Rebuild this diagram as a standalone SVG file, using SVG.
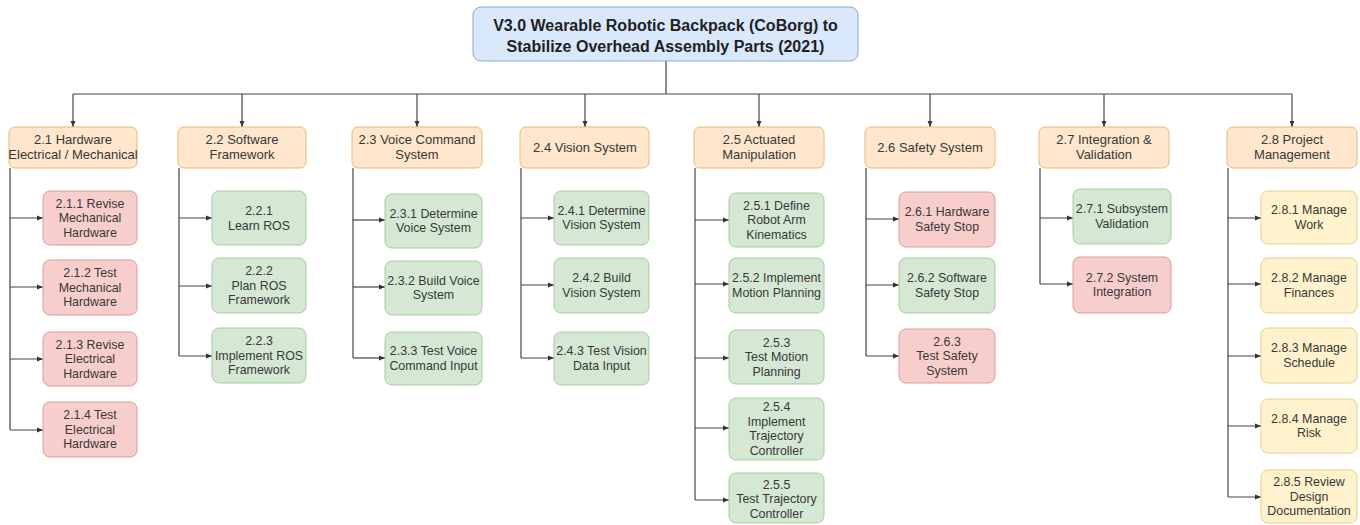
<svg xmlns="http://www.w3.org/2000/svg" width="1360" height="525" viewBox="0 0 1360 525">
  <style>
    text { font-family: "Liberation Sans", Arial, sans-serif; font-size: 12.4px; fill: #383838; text-anchor: middle; }
    .title text { font-size: 16px; font-weight: bold; fill: #222; }
    .phase text { font-size: 13px; }
    .title rect { fill: #dae8fc; stroke: #8aa8d0; stroke-width: 1; }
    .phase rect { fill: #ffe6cc; stroke: #e8b877; stroke-width: 1; }
    .red rect { fill: #f8cecc; stroke: #d79b98; stroke-width: 1; }
    .green rect { fill: #d5e8d4; stroke: #a9cc9c; stroke-width: 1; }
    .yellow rect { fill: #fff2cc; stroke: #e6d08c; stroke-width: 1; }
    #connectors path { fill: none; stroke: #444; stroke-width: 1.2; }
    #connectors .arr { marker-end: url(#arrow); }
  </style>
  <defs>
    <marker id="arrow" viewBox="0 0 10 10" refX="10" refY="5" markerWidth="6" markerHeight="6" markerUnits="userSpaceOnUse" orient="auto">
      <path d="M0,1 L10,5 L0,9 Z" fill="#333"/>
    </marker>
  </defs>
  <rect width="1360" height="525" fill="#ffffff"/>

  <!-- connectors -->
  <g id="connectors">
    <path d="M666,61 V94"/>
    <path d="M73,94 H1292"/>
    <path class="arr" d="M73,94 V127"/>
    <path class="arr" d="M242,94 V127"/>
    <path class="arr" d="M417,94 V127"/>
    <path class="arr" d="M585,94 V127"/>
    <path class="arr" d="M759,94 V127"/>
    <path class="arr" d="M930,94 V127"/>
    <path class="arr" d="M1104,94 V127"/>
    <path class="arr" d="M1292,94 V127"/>
    <!-- 2.1 -->
    <path d="M10,168 V430"/>
    <path class="arr" d="M10,218 H43"/>
    <path class="arr" d="M10,287 H43"/>
    <path class="arr" d="M10,359 H43"/>
    <path class="arr" d="M10,430 H43"/>
    <!-- 2.2 -->
    <path d="M179,168 V356"/>
    <path class="arr" d="M179,218 H212"/>
    <path class="arr" d="M179,286 H212"/>
    <path class="arr" d="M179,356 H212"/>
    <!-- 2.3 -->
    <path d="M353,168 V358"/>
    <path class="arr" d="M353,220 H385"/>
    <path class="arr" d="M353,287 H385"/>
    <path class="arr" d="M353,358 H385"/>
    <!-- 2.4 -->
    <path d="M521,168 V358"/>
    <path class="arr" d="M521,218 H554"/>
    <path class="arr" d="M521,285 H554"/>
    <path class="arr" d="M521,358 H554"/>
    <!-- 2.5 -->
    <path d="M695,168 V500"/>
    <path class="arr" d="M695,220 H729"/>
    <path class="arr" d="M695,284 H729"/>
    <path class="arr" d="M695,358 H729"/>
    <path class="arr" d="M695,428 H729"/>
    <path class="arr" d="M695,500 H729"/>
    <!-- 2.6 -->
    <path d="M866,168 V356"/>
    <path class="arr" d="M866,219 H899"/>
    <path class="arr" d="M866,285 H899"/>
    <path class="arr" d="M866,356 H899"/>
    <!-- 2.7 -->
    <path d="M1040,168 V284"/>
    <path class="arr" d="M1040,218 H1073"/>
    <path class="arr" d="M1040,284 H1073"/>
    <!-- 2.8 -->
    <path d="M1228,168 V497"/>
    <path class="arr" d="M1228,218 H1261"/>
    <path class="arr" d="M1228,284 H1261"/>
    <path class="arr" d="M1228,356 H1261"/>
    <path class="arr" d="M1228,426 H1261"/>
    <path class="arr" d="M1228,497 H1261"/>
  </g>

  <!-- root -->
  <g id="root" class="title">
    <rect x="473" y="7" width="385" height="54" rx="8"/>
    <text x="665.5" y="31">V3.0 Wearable Robotic Backpack (CoBorg) to</text>
    <text x="665.5" y="52">Stabilize Overhead Assembly Parts (2021)</text>
  </g>

  <!-- phases -->
  <g id="n2-1" class="phase">
    <rect x="9" y="127" width="128" height="41" rx="6"/>
    <text x="73" y="144">2.1 Hardware</text>
    <text x="73" y="159">Electrical / Mechanical</text>
  </g>
  <g id="n2-2" class="phase">
    <rect x="178" y="127" width="128" height="41" rx="6"/>
    <text x="242" y="144">2.2 Software</text>
    <text x="242" y="159">Framework</text>
  </g>
  <g id="n2-3" class="phase">
    <rect x="352" y="127" width="130" height="41" rx="6"/>
    <text x="417" y="144">2.3 Voice Command</text>
    <text x="417" y="159">System</text>
  </g>
  <g id="n2-4" class="phase">
    <rect x="520" y="127" width="129" height="41" rx="6"/>
    <text x="585" y="152">2.4 Vision System</text>
  </g>
  <g id="n2-5" class="phase">
    <rect x="694" y="127" width="130" height="41" rx="6"/>
    <text x="759" y="144">2.5 Actuated</text>
    <text x="759" y="159">Manipulation</text>
  </g>
  <g id="n2-6" class="phase">
    <rect x="865" y="127" width="130" height="41" rx="6"/>
    <text x="930" y="152">2.6 Safety System</text>
  </g>
  <g id="n2-7" class="phase">
    <rect x="1039" y="127" width="130" height="41" rx="6"/>
    <text x="1104" y="144">2.7 Integration &amp;</text>
    <text x="1104" y="159">Validation</text>
  </g>
  <g id="n2-8" class="phase">
    <rect x="1227" y="127" width="130" height="41" rx="6"/>
    <text x="1292" y="144">2.8 Project</text>
    <text x="1292" y="159">Management</text>
  </g>

  <!-- 2.1 tasks -->
  <g id="n2-1-1" class="red">
    <rect x="43" y="191" width="94" height="54" rx="7"/>
    <text x="90" y="207.5">2.1.1 Revise</text>
    <text x="90" y="222">Mechanical</text>
    <text x="90" y="236.5">Hardware</text>
  </g>
  <g id="n2-1-2" class="red">
    <rect x="43" y="260" width="94" height="55" rx="7"/>
    <text x="90" y="277">2.1.2 Test</text>
    <text x="90" y="291.5">Mechanical</text>
    <text x="90" y="306">Hardware</text>
  </g>
  <g id="n2-1-3" class="red">
    <rect x="43" y="332" width="94" height="54" rx="7"/>
    <text x="90" y="348.5">2.1.3 Revise</text>
    <text x="90" y="363">Electrical</text>
    <text x="90" y="377.5">Hardware</text>
  </g>
  <g id="n2-1-4" class="red">
    <rect x="43" y="402" width="94" height="55" rx="7"/>
    <text x="90" y="419">2.1.4 Test</text>
    <text x="90" y="433.5">Electrical</text>
    <text x="90" y="448">Hardware</text>
  </g>

  <!-- 2.2 tasks -->
  <g id="n2-2-1" class="green">
    <rect x="212" y="191" width="94" height="54" rx="7"/>
    <text x="259" y="215">2.2.1</text>
    <text x="259" y="229.5">Learn ROS</text>
  </g>
  <g id="n2-2-2" class="green">
    <rect x="212" y="258" width="94" height="55" rx="7"/>
    <text x="259" y="275">2.2.2</text>
    <text x="259" y="289.5">Plan ROS</text>
    <text x="259" y="304">Framework</text>
  </g>
  <g id="n2-2-3" class="green">
    <rect x="212" y="328" width="94" height="55" rx="7"/>
    <text x="259" y="345">2.2.3</text>
    <text x="259" y="359.5">Implement ROS</text>
    <text x="259" y="374">Framework</text>
  </g>

  <!-- 2.3 tasks -->
  <g id="n2-3-1" class="green">
    <rect x="385" y="194" width="97" height="54" rx="7"/>
    <text x="433.5" y="217.5">2.3.1 Determine</text>
    <text x="433.5" y="232">Voice System</text>
  </g>
  <g id="n2-3-2" class="green">
    <rect x="385" y="261" width="97" height="54" rx="7"/>
    <text x="433.5" y="284.5">2.3.2 Build Voice</text>
    <text x="433.5" y="299">System</text>
  </g>
  <g id="n2-3-3" class="green">
    <rect x="385" y="332" width="97" height="53" rx="7"/>
    <text x="433.5" y="355">2.3.3 Test Voice</text>
    <text x="433.5" y="369.5">Command Input</text>
  </g>

  <!-- 2.4 tasks -->
  <g id="n2-4-1" class="green">
    <rect x="554" y="191" width="95" height="54" rx="7"/>
    <text x="601.5" y="214.5">2.4.1 Determine</text>
    <text x="601.5" y="229">Vision System</text>
  </g>
  <g id="n2-4-2" class="green">
    <rect x="554" y="258" width="95" height="55" rx="7"/>
    <text x="601.5" y="282">2.4.2 Build</text>
    <text x="601.5" y="296.5">Vision System</text>
  </g>
  <g id="n2-4-3" class="green">
    <rect x="554" y="332" width="95" height="53" rx="7"/>
    <text x="601.5" y="355">2.4.3 Test Vision</text>
    <text x="601.5" y="369.5">Data Input</text>
  </g>

  <!-- 2.5 tasks -->
  <g id="n2-5-1" class="green">
    <rect x="729" y="193" width="95" height="54" rx="7"/>
    <text x="776.5" y="209.5">2.5.1 Define</text>
    <text x="776.5" y="224">Robot Arm</text>
    <text x="776.5" y="238.5">Kinematics</text>
  </g>
  <g id="n2-5-2" class="green">
    <rect x="729" y="258" width="95" height="55" rx="7"/>
    <text x="776.5" y="282">2.5.2 Implement</text>
    <text x="776.5" y="296.5">Motion Planning</text>
  </g>
  <g id="n2-5-3" class="green">
    <rect x="729" y="330" width="95" height="54" rx="7"/>
    <text x="776.5" y="346.5">2.5.3</text>
    <text x="776.5" y="361">Test Motion</text>
    <text x="776.5" y="375.5">Planning</text>
  </g>
  <g id="n2-5-4" class="green">
    <rect x="729" y="398" width="95" height="62" rx="7"/>
    <text x="776.5" y="411">2.5.4</text>
    <text x="776.5" y="425.5">Implement</text>
    <text x="776.5" y="440">Trajectory</text>
    <text x="776.5" y="454.5">Controller</text>
  </g>
  <g id="n2-5-5" class="green">
    <rect x="729" y="473" width="95" height="50" rx="7"/>
    <text x="776.5" y="488.5">2.5.5</text>
    <text x="776.5" y="503">Test Trajectory</text>
    <text x="776.5" y="517.5">Controller</text>
  </g>

  <!-- 2.6 tasks -->
  <g id="n2-6-1" class="red">
    <rect x="899" y="192" width="96" height="55" rx="7"/>
    <text x="947" y="216">2.6.1 Hardware</text>
    <text x="947" y="230.5">Safety Stop</text>
  </g>
  <g id="n2-6-2" class="green">
    <rect x="899" y="258" width="96" height="55" rx="7"/>
    <text x="947" y="282">2.6.2 Software</text>
    <text x="947" y="296.5">Safety Stop</text>
  </g>
  <g id="n2-6-3" class="red">
    <rect x="899" y="329" width="96" height="54" rx="7"/>
    <text x="947" y="345.5">2.6.3</text>
    <text x="947" y="360">Test Safety</text>
    <text x="947" y="374.5">System</text>
  </g>

  <!-- 2.7 tasks -->
  <g id="n2-7-1" class="green">
    <rect x="1073" y="189" width="98" height="55" rx="7"/>
    <text x="1122" y="213">2.7.1 Subsystem</text>
    <text x="1122" y="227.5">Validation</text>
  </g>
  <g id="n2-7-2" class="red">
    <rect x="1073" y="257" width="98" height="56" rx="7"/>
    <text x="1122" y="281.5">2.7.2 System</text>
    <text x="1122" y="296">Integration</text>
  </g>

  <!-- 2.8 tasks -->
  <g id="n2-8-1" class="yellow">
    <rect x="1261" y="191" width="96" height="53" rx="7"/>
    <text x="1309" y="214">2.8.1 Manage</text>
    <text x="1309" y="228.5">Work</text>
  </g>
  <g id="n2-8-2" class="yellow">
    <rect x="1261" y="258" width="96" height="55" rx="7"/>
    <text x="1309" y="282">2.8.2 Manage</text>
    <text x="1309" y="296.5">Finances</text>
  </g>
  <g id="n2-8-3" class="yellow">
    <rect x="1261" y="328" width="96" height="55" rx="7"/>
    <text x="1309" y="352">2.8.3 Manage</text>
    <text x="1309" y="366.5">Schedule</text>
  </g>
  <g id="n2-8-4" class="yellow">
    <rect x="1261" y="399" width="96" height="54" rx="7"/>
    <text x="1309" y="422.5">2.8.4 Manage</text>
    <text x="1309" y="437">Risk</text>
  </g>
  <g id="n2-8-5" class="yellow">
    <rect x="1261" y="470" width="96" height="53" rx="7"/>
    <text x="1309" y="486">2.8.5 Review</text>
    <text x="1309" y="500.5">Design</text>
    <text x="1309" y="515">Documentation</text>
  </g>
</svg>
